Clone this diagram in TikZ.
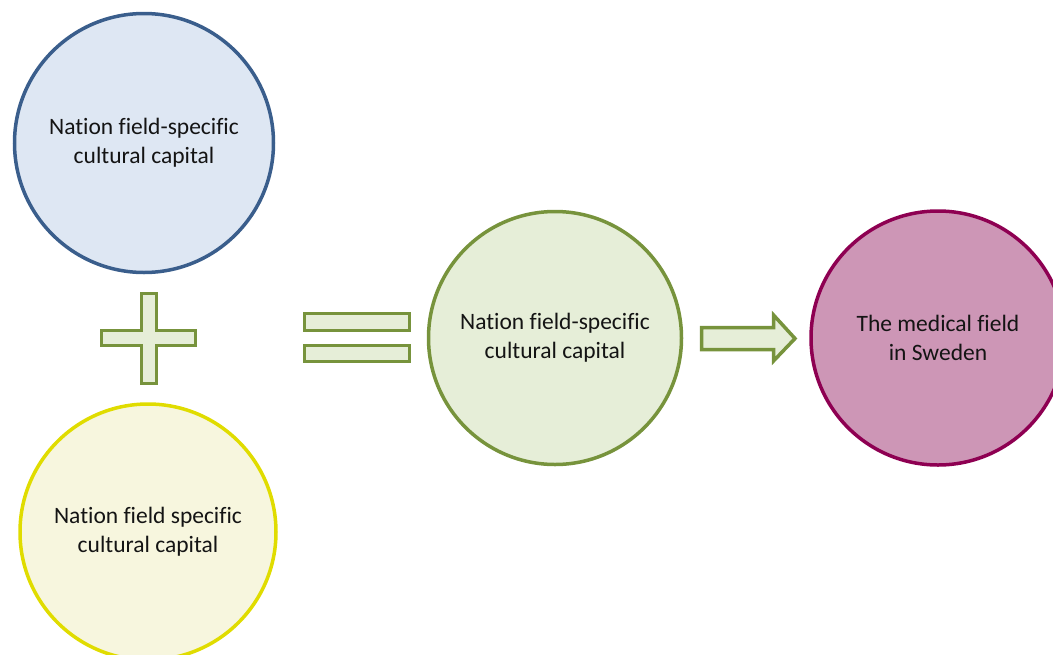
\documentclass[tikz,border=0pt]{standalone}
\usepackage{fontspec}
\setmainfont[Ligatures=NoCommon]{Carlito}
\begin{document}
\definecolor{blueFill}{HTML}{DEE7F3}
\definecolor{blueLine}{HTML}{3A5E8C}
\definecolor{yelFill}{HTML}{F7F6DE}
\definecolor{yelLine}{HTML}{E0DC00}
\definecolor{grnFill}{HTML}{E6EED8}
\definecolor{grnLine}{HTML}{77933C}
\definecolor{purFill}{HTML}{CD96B6}
\definecolor{purLine}{HTML}{8E0052}
\definecolor{txt}{HTML}{141414}
\begin{tikzpicture}[x=1pt,y=-1pt,
  bubble/.style={circle,line width=3.5pt,inner sep=0pt,align=center,
    text=txt,font=\fontsize{23.5}{29}\selectfont},
  sign/.style={line width=3.5pt,draw=grnLine,fill=grnFill,line join=miter}]
\useasboundingbox (0,0) rectangle (1053,654);
\clip (0,0) rectangle (1053,654);
% the four circles
\node[bubble,draw=blueLine,fill=blueFill,minimum size=259pt] (nation1) at (144,143)
  {Nation field-specific\\cultural capital};
\node[bubble,draw=yelLine,fill=yelFill,minimum size=256pt] (nation2) at (148,532)
  {Nation field specific\\cultural capital};
\node[bubble,draw=grnLine,fill=grnFill,minimum size=253pt] (result) at (555,338)
  {Nation field-specific\\cultural capital};
\node[bubble,draw=purLine,fill=purFill,minimum size=254pt] (medical) at (938,338)
  {The medical field\\in Sweden};
% plus sign
\draw[sign] (141.5,293.5) -- (156.5,293.5) -- (156.5,330.5) -- (195.5,330.5)
  -- (195.5,345.5) -- (156.5,345.5) -- (156.5,383.5) -- (141.5,383.5)
  -- (141.5,345.5) -- (101.5,345.5) -- (101.5,330.5) -- (141.5,330.5) -- cycle;
% equals sign
\draw[sign] (304.5,313.5) rectangle (409.5,330.5);
\draw[sign] (304.5,345.5) rectangle (409.5,361.5);
% block arrow
\draw[sign] (701.5,327.5) -- (773.5,327.5) -- (773.5,315) -- (795,338.5)
  -- (773.5,361) -- (773.5,349.5) -- (701.5,349.5) -- cycle;
\end{tikzpicture}
\end{document}
